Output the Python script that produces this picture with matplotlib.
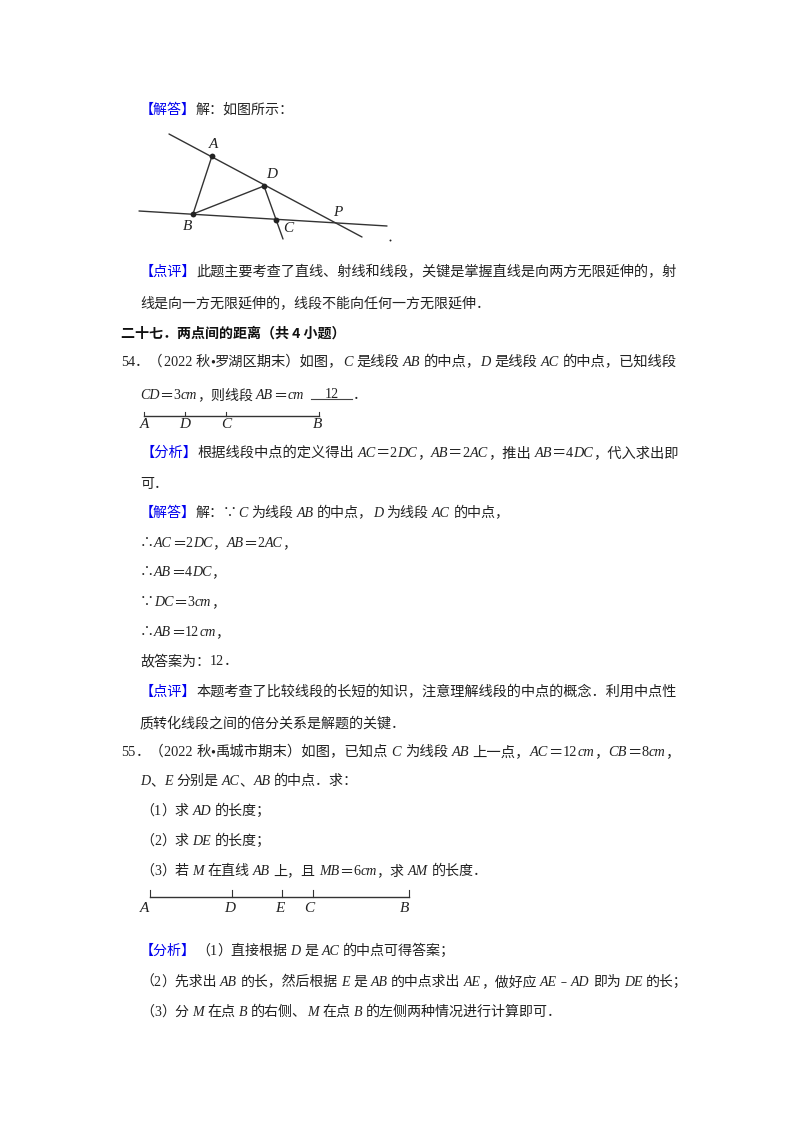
# -*- coding: utf-8 -*-
"""Worksheet page: text lines, one triangle sketch, two segment sketches."""
import re

import matplotlib
matplotlib.use("Agg")
import matplotlib.pyplot as plt

CJK = ["Noto Sans CJK SC", "DejaVu Sans"]
SERIF = ["Liberation Serif", "DejaVu Serif"]
INK = "#222222"
BLUE = "#0000ee"
BASE_PT = 10.1

# x start, centre y, x end of justified line (or None); *..* is italic, {..} is blue
LINES = [
    (140, 109, None, "{【解答】}解：如图所示："),
    (140, 271, 678, "{【点评】}此题主要考查了直线、射线和线段，关键是掌握直线是向两方无限延伸的，射"),
    (140, 303, None, "线是向一方无限延伸的，线段不能向任何一方无限延伸．"),
    (121, 361, 678, "54．（2022 秋•罗湖区期末）如图，*C* 是线段 *AB* 的中点，*D* 是线段 *AC* 的中点，已知线段"),
    (140, 394, None, "*CD*＝3*cm*，则线段 *AB*＝*cm*"),
    (140, 452, 678, "{【分析】}根据线段中点的定义得出 *AC*＝2*DC*，*AB*＝2*AC*，推出 *AB*＝4*DC*，代入求出即"),
    (140, 483, None, "可．"),
    (140, 512, None, "{【解答】}解：∵*C* 为线段 *AB* 的中点，*D* 为线段 *AC* 的中点，"),
    (140, 542, None, "∴*AC*＝2*DC*，*AB*＝2*AC*，"),
    (140, 571, None, "∴*AB*＝4*DC*，"),
    (140, 601, None, "∵*DC*＝3*cm*，"),
    (140, 631, None, "∴*AB*＝12*cm*，"),
    (140, 660, None, "故答案为：12．"),
    (140, 691, 678, "{【点评】}本题考查了比较线段的长短的知识，注意理解线段的中点的概念．利用中点性"),
    (140, 722, None, "质转化线段之间的倍分关系是解题的关键．"),
    (121, 751, 678, "55．（2022 秋•禹城市期末）如图，已知点 *C* 为线段 *AB* 上一点，*AC*＝12*cm*，*CB*＝8*cm*，"),
    (140, 780, None, "*D*、*E* 分别是 *AC*、*AB* 的中点．求："),
    (140, 810, None, "（1）求 *AD* 的长度；"),
    (140, 840, None, "（2）求 *DE* 的长度；"),
    (140, 870, None, "（3）若 *M* 在直线 *AB* 上，且 *MB*＝6*cm*，求 *AM* 的长度．"),
    (140, 950, None, "{【分析】}（1）直接根据 *D* 是 *AC* 的中点可得答案；"),
    (140, 981, 686, "（2）先求出 *AB* 的长，然后根据 *E* 是 *AB* 的中点求出 *AE*，做好应 *AE*﹣*AD* 即为 *DE* 的长；"),
    (140, 1011, None, "（3）分 *M* 在点 *B* 的右侧、*M* 在点 *B* 的左侧两种情况进行计算即可．"),
]
HEADING = (121, 333, "二十七．两点间的距离（共 4 小题）")

# triangle sketch
TRI_POINTS = {"A": (212, 156), "B": (193, 214), "C": (276, 220), "D": (264, 186)}
TRI_LABELS = {"A": (214, 145), "B": (188, 226), "C": (288, 228), "D": (272, 175), "P": (338, 212)}
TRI_LINES = [
    ((169, 134), (362, 237)),
    ((139, 211), (387, 226)),
    ((212, 156), (193, 214)),
    ((193, 214), (264, 186)),
    ((264, 186), (283, 239)),
]

# segment sketches: tick name, tick x, label x
SEG1_NAMES = ["A", "D", "C", "B"]
SEG1_X = [144, 185, 226, 319]
SEG1_LABEL_X = [145, 185, 226, 318]
SEG2_NAMES = ["A", "D", "E", "C", "B"]
SEG2_X = [150, 232, 282, 313, 409]
SEG2_LABEL_X = [145, 230, 280, 309, 405]

fig = plt.figure(figsize=(8, 11.32), dpi=100, facecolor="white")
ax = fig.add_axes([0, 0, 1, 1])
ax.set_xlim(0, 800)
ax.set_ylim(1132, 0)
ax.axis("off")
renderer = fig.canvas.get_renderer()


def runs_of(markup):
    """Split markup into (text, family, style, colour) runs."""
    out = []
    for tok in re.split(r"(\*[^*]+\*|\{[^}]+\})", markup):
        if not tok:
            continue
        if tok[0] == "*":
            out.append((tok[1:-1], SERIF, "italic", INK))
        elif tok[0] == "{":
            out.append((tok[1:-1], CJK, "normal", BLUE))
        else:
            for part in re.findall(r"[\x00-\x7f•]+|[^\x00-\x7f•]+", tok):
                fam = SERIF if ord(part[0]) < 128 or part[0] == "•" else CJK
                out.append((part, fam, "normal", INK))
    return out


def advance(s, fam, style, size):
    # bars on both sides so spaces and wide punctuation keep their full width
    t = ax.text(0, 0, "|" + s + "|", family=fam, style=style, fontsize=size)
    w = t.get_window_extent(renderer).width
    t.set_text("||")
    w -= t.get_window_extent(renderer).width
    t.remove()
    return w


def put_line(x, yc, end, markup):
    runs = runs_of(markup)
    size = BASE_PT
    if end is not None:
        natural = sum(advance(r[0], r[1], r[2], BASE_PT) for r in runs)
        size = BASE_PT * (end - x) / natural
    for text, fam, style, col in runs:
        ax.text(x, yc + 5, text, family=fam, style=style, color=col, fontsize=size,
                va="baseline", ha="left")
        x += advance(text, fam, style, size)


def label(x, yc, name):
    ax.text(x, yc, name, family=SERIF, style="italic", color=INK, fontsize=11,
            ha="center", va="center")


for x0, yc, x1, markup in LINES:
    put_line(x0, yc, x1, markup)
ax.text(HEADING[0], HEADING[1] + 5, HEADING[2], family=CJK, weight="bold", color="#111111",
        fontsize=BASE_PT, va="baseline", ha="left")

# answer blank of question 54
ax.text(332, 398, "12", family=SERIF, color=INK, fontsize=10.1, ha="center", va="baseline")
ax.plot([311, 352], [399, 399], color="#444444", lw=0.8)
ax.text(353, 399, "．", family=CJK, color=INK, fontsize=BASE_PT, ha="left", va="baseline")

# triangle
for (xa, ya), (xb, yb) in TRI_LINES:
    ax.plot([xa, xb], [ya, yb], color="#333333", lw=1.0, solid_capstyle="round")
for px, py in TRI_POINTS.values():
    ax.plot(px, py, "o", color="#222222", ms=4.2, mew=0)
for name, (lx, ly) in TRI_LABELS.items():
    label(lx, ly, name)
ax.plot(390, 240, "o", color="#222222", ms=1.4, mew=0)

# segments
for names, xs, lxs, y, top, ly in [
    (SEG1_NAMES, SEG1_X, SEG1_LABEL_X, 416, 412, 424),
    (SEG2_NAMES, SEG2_X, SEG2_LABEL_X, 897, 890, 909),
]:
    ax.plot([xs[0], xs[-1]], [y, y], color="#333333", lw=1.0)
    for tx in xs:
        ax.plot([tx, tx], [top, y], color="#333333", lw=0.8)
    for name, lx in zip(names, lxs):
        label(lx, ly, name)

fig.savefig("out.png", dpi=100, facecolor="white")
